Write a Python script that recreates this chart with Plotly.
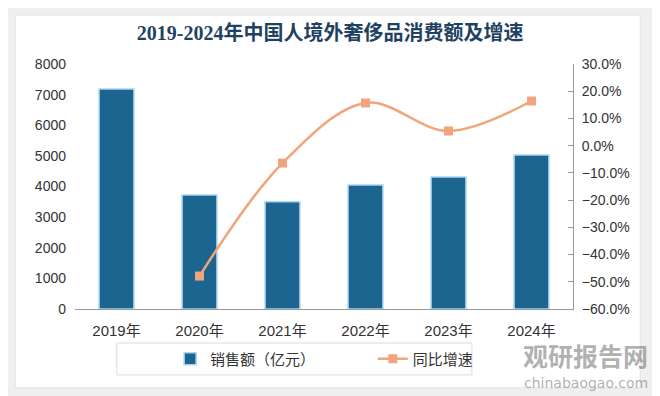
import plotly.graph_objects as go

years = ["2019年", "2020年", "2021年", "2022年", "2023年", "2024年"]
sales = [7180, 3720, 3500, 4050, 4310, 5030]
growth_years = ["2020年", "2021年", "2022年", "2023年", "2024年"]
growth = [-0.479, -0.064, 0.157, 0.054, 0.164]

title_text = "2019-2024年中国人境外奢侈品消费额及增速"
bar_name = "销售额（亿元）"
line_name = "同比增速"

fig = go.Figure()
fig.add_trace(go.Bar(
    x=years, y=sales, name=bar_name, width=0.42, legend="legend",
    marker=dict(color="#1b6590", line=dict(color="#a9d6ee", width=1.5)),
))
fig.add_trace(go.Scatter(
    x=growth_years, y=growth, name=line_name, yaxis="y2", legend="legend2",
    mode="lines+markers", line=dict(color="#f1a57c", width=2.5, shape="spline", smoothing=1.0),
    marker=dict(symbol="square", size=9, color="#f1a57c"),
))

ytick_font = dict(family="Liberation Sans, Noto Sans CJK SC", size=14, color="#333333")
xtick_font = dict(family="Liberation Sans, Noto Sans CJK SC", size=15, color="#333333")
legend_font = dict(family="Noto Sans CJK SC", size=15, color="#333333")

fig.update_layout(
    width=652, height=388,
    margin=dict(l=67, r=87, t=56, b=87),
    paper_bgcolor="#efefef",
    plot_bgcolor="#f3f4f5",
    title=dict(text="<b>" + title_text + "</b>", x=0.494, xref="container", xanchor="center",
               y=0.936, yanchor="middle",
               font=dict(family="Liberation Serif, Noto Sans CJK SC", size=20, color="#1f4262")),
    font=dict(family="Noto Sans CJK SC, Liberation Sans", size=13, color="#333333"),
    xaxis=dict(showgrid=False, showline=True, linecolor="#999999", linewidth=1,
               ticks="", tickfont=xtick_font, ticklabelstandoff=8, fixedrange=True),
    yaxis=dict(range=[0, 8000], dtick=1000, showgrid=False, showline=False, zeroline=False,
               tickfont=ytick_font, ticks="", ticklabelstandoff=8),
    yaxis2=dict(range=[-0.6, 0.3], dtick=0.1, tickformat=".1%", overlaying="y", side="right",
                showgrid=False, zeroline=False, showline=True, linecolor="#999999", linewidth=1,
                ticks="inside", ticklen=5, tickcolor="#999999", tickfont=ytick_font,
                ticklabelstandoff=5),
    legend=dict(orientation="h", x=0.191, y=-0.204, xanchor="left", yanchor="middle",
                bgcolor="rgba(0,0,0,0)", borderwidth=0, font=legend_font),
    legend2=dict(orientation="h", x=0.598, y=-0.204, xanchor="left", yanchor="middle",
                 bgcolor="rgba(0,0,0,0)", borderwidth=0, font=legend_font),
    showlegend=True,
    shapes=[
        dict(type="rect", xref="paper", yref="paper", x0=-0.12, x1=1.135, y0=-0.322, y1=1.2,
             fillcolor="#ffffff", line=dict(color="#e2e2e2", width=1), layer="below"),
        dict(type="rect", xref="paper", yref="paper", x0=0.084, x1=0.797, y0=-0.269, y1=-0.139,
             fillcolor="#ffffff", line=dict(color="#dcdcdc", width=1), layer="below"),
    ],
    annotations=[
        dict(text="<b>观研报告网</b>", xref="paper", yref="paper", x=1.155, y=-0.188,
             xanchor="right", yanchor="middle", showarrow=False,
             font=dict(family="Noto Sans CJK SC", size=25, color="rgba(110,110,110,0.55)")),
        dict(text="chinabaogao.com", xref="paper", yref="paper", x=1.155, y=-0.302,
             xanchor="right", yanchor="middle", showarrow=False,
             font=dict(family="DejaVu Sans", size=14, color="rgba(110,110,110,0.55)")),
    ],
)

fig.write_html("out.html")
